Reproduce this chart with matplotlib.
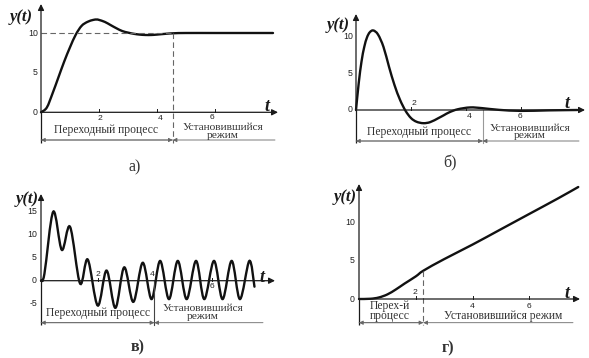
import matplotlib
matplotlib.use('Agg')
import matplotlib.pyplot as plt
from matplotlib.path import Path
from matplotlib.patches import PathPatch
import numpy as np

# ---------------- data ----------------
# panel a) – damped step response
t_a = [0, 0.2, 0.4, 0.6, 0.8, 1.0, 1.2, 1.4, 1.6, 1.8, 1.92, 2.0, 2.2, 2.4, 2.6,
       2.8, 3.0, 3.2, 3.4, 3.6, 3.8, 4.0, 4.3, 4.6, 5.0, 6.0, 7.0, 8.0]
y_a = [0, 0.6, 2.4, 4.4, 6.4, 8.2, 9.8, 10.9, 11.4, 11.65, 11.7, 11.65, 11.4, 11.0,
       10.6, 10.25, 10.05, 9.9, 9.8, 9.75, 9.75, 9.8, 9.9, 9.97, 10.0, 10.0, 10.0, 10.0]
# panel б) – impulse-like response
t_b = [0, 0.1, 0.2, 0.3, 0.4, 0.5, 0.63, 0.8, 1.0, 1.2, 1.4, 1.6, 1.8, 2.0, 2.2,
       2.45, 2.7, 3.0, 3.2, 3.4, 3.7, 4.15, 4.6, 5.2, 6.0, 7.0, 8.05]
y_b = [0, 3.7, 6.6, 8.6, 9.9, 10.6, 10.85, 10.3, 8.6, 5.9, 3.4, 1.4, -0.1, -1.1, -1.6,
       -1.8, -1.65, -1.1, -0.7, -0.3, 0.1, 0.35, 0.25, 0.02, -0.12, -0.05, 0]
# panel в) – oscillating response (extrema)
t_v = [0, 0.12, 0.43, 0.73, 1.02, 1.37, 1.64, 1.99, 2.30, 2.61, 2.92, 3.24, 3.57,
       3.88, 4.18, 4.49, 4.80, 5.11, 5.44, 5.73, 6.07, 6.37, 6.69, 6.98, 7.31, 7.49]
y_v = [0, 1.5, 15.0, 6.7, 11.7, -0.6, 4.6, -5.4, 2.2, -5.9, 2.9, -4.6, 3.9,
       -4.0, 4.3, -4.0, 4.3, -4.0, 4.3, -4.0, 4.3, -4.0, 4.3, -4.0, 4.3, -1.3]
# panel г) – ramp response
t_g = [0, 0.4, 0.7, 1.0, 1.3, 1.6, 2.0, 2.27, 3.0, 4.0, 5.0, 6.0, 7.0, 7.72]
y_g = [0, 0.03, 0.2, 0.6, 1.25, 2.0, 2.95, 3.7, 5.2, 7.1, 9.1, 11.1, 13.1, 14.6]

# tick labels
yticks_a = [0, 5, 10]
yticks_b = [0, 5, 10]
yticks_v = [-5, 0, 5, 10, 15]
yticks_g = [0, 5, 10]
xticks = [2, 4, 6]

txt_trans = 'Переходный процесс'
txt_steady = 'Установившийся\nрежим'
txt_trans_short = 'Перех-й\nпроцесс'
txt_steady_full = 'Установившийся режим'
panel_labels = ['а)', 'б)', 'в)', 'г)']

# ---------------- figure ----------------
W, H = 589, 358
fig = plt.figure(figsize=(W / 100, H / 100), dpi=100)
fig.patch.set_facecolor('white')

SERIF = 'Liberation Serif'
SANS = 'Liberation Sans'
AXC = '#1a1a1a'
GRY = '#666666'


def smooth_path(ts, ys):
    pts = np.column_stack([ts, ys]).astype(float)
    n = len(pts)
    verts = [pts[0]]
    codes = [Path.MOVETO]
    for i in range(n - 1):
        p0 = pts[i - 1] if i > 0 else pts[i]
        p1 = pts[i]
        p2 = pts[i + 1]
        p3 = pts[i + 2] if i + 2 < n else pts[i + 1]
        c1 = p1 + (p2 - p0) / 6.0
        c2 = p2 - (p3 - p1) / 6.0
        verts += [c1, c2, p2]
        codes += [Path.CURVE4] * 3
    return Path(verts, codes)


class Panel:
    def __init__(self, x0, y0, sx, sy):
        self.x0, self.y0, self.sx, self.sy = x0, y0, sx, sy
        ax = fig.add_axes([0, 0, 1, 1])
        ax.set_xlim((0 - x0) / sx, (W - x0) / sx)
        ax.set_ylim((y0 - H) / sy, (y0 - 0) / sy)
        ax.axis('off')
        ax.patch.set_alpha(0)
        self.ax = ax

    def X(self, px):
        return (px - self.x0) / self.sx

    def Y(self, py):
        return (self.y0 - py) / self.sy

    def arrow(self, xy_from, xy_to, style='-|>', lw=0.9, color=AXC, ms=9):
        self.ax.annotate('', xy=xy_to, xytext=xy_from,
                         arrowprops=dict(arrowstyle=style, lw=lw, color=color,
                                         mutation_scale=ms, shrinkA=0, shrinkB=0),
                         annotation_clip=False)

    def axes_lines(self, top_py, bottom_py, xend_px, ylab_xy, tlab_xy):
        ax = self.ax
        ax.plot([0, 0], [self.Y(bottom_py), 0], color=AXC, lw=0.9, solid_capstyle='butt')
        self.arrow((0, 0), (0, self.Y(top_py)))
        self.arrow((0, 0), (self.X(xend_px), 0))
        ax.text(self.X(ylab_xy[0]), self.Y(ylab_xy[1]), 'y(t)',
                fontsize=12, ha='center', va='center', family=SERIF,
                fontweight='bold', style='italic', color=AXC)
        ax.text(self.X(tlab_xy[0]), self.Y(tlab_xy[1]), 't',
                fontsize=13, ha='center', va='center', family=SERIF,
                fontweight='bold', style='italic', color=AXC)

    def yticklabels(self, vals, right_px):
        for v in vals:
            self.ax.text(self.X(right_px), v, f'{v}', fontsize=6.3, family=SANS,
                         ha='right', va='center', color='#222')

    def xticklabels(self, vals, label_pos):
        for v, (px, py) in zip(vals, label_pos):
            self.ax.plot([v, v], [0, self.Y(self.y0 - 3)], color=AXC, lw=0.7)
            self.ax.text(self.X(px), self.Y(py), f'{v}', fontsize=6.1, family=SANS,
                         ha='center', va='center', color='#222')

    def curve(self, ts, ys):
        self.ax.add_patch(PathPatch(smooth_path(ts, ys), facecolor='none',
                                    edgecolor='#111111', lw=1.7, capstyle='round'))

    def text(self, px, py, s, size=8.4, ls=0.78, **kw):
        self.ax.text(self.X(px), self.Y(py), s, fontsize=size, family=SERIF,
                     ha='center', va='center', color='#333', linespacing=ls,
                     **kw)


# ---------------- panel а ----------------
pa = Panel(41, 112.3, 29.0, 7.93)
sep_a = pa.X(172.7)
pa.ax.plot([0, sep_a], [10, 10], color=GRY, lw=0.8, ls=(0, (5, 3)))
pa.ax.plot([sep_a, sep_a], [10, pa.Y(143)], color=GRY, lw=0.8, ls=(0, (5, 3)))
pa.axes_lines(4, 143, 278, (21, 17), (267, 106))
pa.yticklabels(yticks_a, 38)
pa.xticklabels(xticks, [(100, 118.5), (160, 118.5), (212, 117.5)])
pa.curve(t_a, y_a)
pa.arrow((sep_a, pa.Y(140)), (0, pa.Y(140)), style='-|>', lw=0.6, color=GRY, ms=6)
pa.arrow((0, pa.Y(140)), (sep_a, pa.Y(140)), style='-|>', lw=0.6, color=GRY, ms=6)
pa.arrow((pa.X(275), pa.Y(140)), (sep_a, pa.Y(140)), style='-|>', lw=0.6, color=GRY, ms=6)
pa.text(106, 130, txt_trans)
pa.text(223, 131.5, txt_steady, size=8.2, ls=0.72)
pa.text(135, 167, panel_labels[0], size=11.5)

# ---------------- panel б ----------------
pb = Panel(356, 110, 27.5, 7.33)
sep_b = pb.X(482.7)
pb.ax.plot([sep_b, sep_b], [0, pb.Y(143)], color='#999999', lw=0.8)
pb.axes_lines(14, 143, 585, (338, 25), (567, 104))
pb.yticklabels(yticks_b, 353)
pb.xticklabels(xticks, [(414, 104), (469, 117), (520, 116.5)])
pb.curve(t_b, y_b)
pb.arrow((sep_b, pb.Y(141)), (0, pb.Y(141)), style='-|>', lw=0.6, color=GRY, ms=6)
pb.arrow((0, pb.Y(141)), (sep_b, pb.Y(141)), style='-|>', lw=0.6, color=GRY, ms=6)
pb.arrow((pb.X(579), pb.Y(141)), (sep_b, pb.Y(141)), style='-|>', lw=0.6, color=GRY, ms=6)
pb.text(419, 132, txt_trans)
pb.text(530, 132, txt_steady, size=8.2, ls=0.72)
pb.text(450, 163, panel_labels[1], size=11.5)

# ---------------- panel в ----------------
pv = Panel(41, 280.7, 28.5, 4.6)
sep_v = pv.X(154.3)
pv.ax.plot([sep_v, sep_v], [0, pv.Y(325)], color='#444444', lw=0.8)
pv.axes_lines(194, 325, 275, (27, 199), (262, 277))
pv.yticklabels(yticks_v, 37)
pv.xticklabels(xticks, [(98, 275), (152, 275), (212, 287)])
pv.curve(t_v, y_v)
pv.arrow((sep_v, pv.Y(322.7)), (0, pv.Y(322.7)), style='-|>', lw=0.6, color=GRY, ms=6)
pv.arrow((0, pv.Y(322.7)), (sep_v, pv.Y(322.7)), style='-|>', lw=0.6, color=GRY, ms=6)
pv.arrow((pv.X(263), pv.Y(322.7)), (sep_v, pv.Y(322.7)), style='-|>', lw=0.6, color=GRY, ms=6)
pv.text(98, 313, txt_trans)
pv.text(203, 312.5, txt_steady, size=8.2, ls=0.72)
pv.text(138, 347, panel_labels[2], size=11.5, fontweight='bold')

# ---------------- panel г ----------------
pg = Panel(359, 299, 28.4, 7.67)
sep_g = pg.X(423.3)
pg.ax.plot([sep_g, sep_g], [3.7, pg.Y(325)], color=GRY, lw=0.8, ls=(0, (5, 3)))
pg.axes_lines(184, 325, 580, (345, 197), (567, 293))
pg.yticklabels(yticks_g, 355)
pg.xticklabels(xticks, [(415, 292), (471.7, 306), (528.7, 306)])
pg.curve(t_g, y_g)
pg.arrow((sep_g, pg.Y(322.7)), (0, pg.Y(322.7)), style='-|>', lw=0.6, color=GRY, ms=6)
pg.arrow((0, pg.Y(322.7)), (sep_g, pg.Y(322.7)), style='-|>', lw=0.6, color=GRY, ms=6)
pg.arrow((pg.X(573), pg.Y(322.7)), (sep_g, pg.Y(322.7)), style='-|>', lw=0.6, color=GRY, ms=6)
pg.text(390, 311, txt_trans_short, ls=0.72)
pg.text(503, 316, txt_steady_full)
pg.text(448, 348, panel_labels[3], size=11.5, fontweight='bold')

fig.savefig('out.png', dpi=100, facecolor='white')
